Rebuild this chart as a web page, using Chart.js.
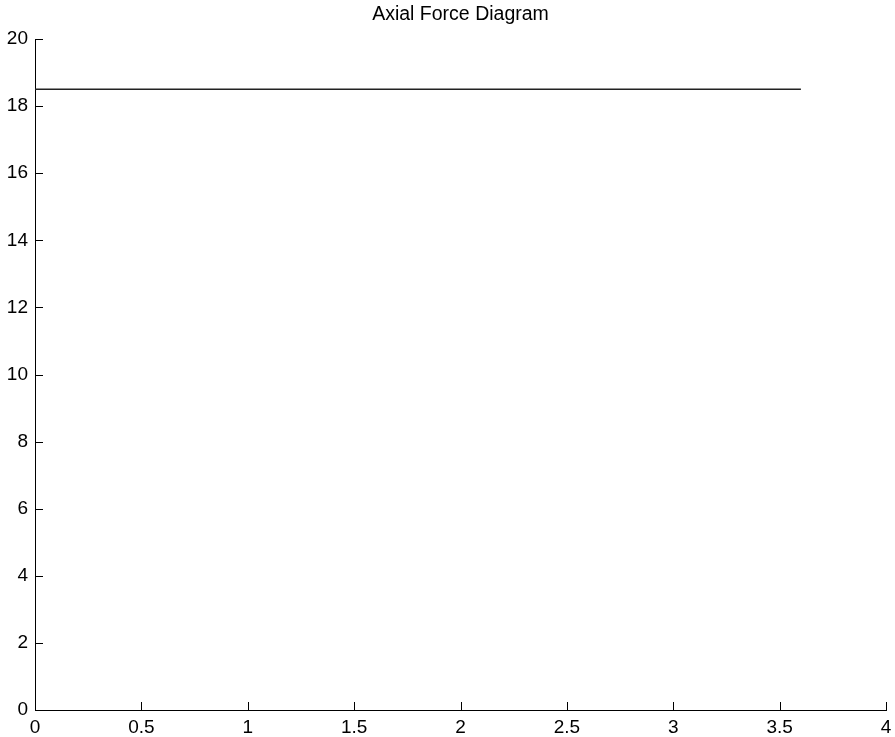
<!DOCTYPE html>
<html>
<head>
<meta charset="utf-8">
<script src="https://cdn.jsdelivr.net/npm/chart.js@4.4.0/dist/chart.umd.min.js"></script>
<style>
  html, body { margin: 0; padding: 0; background: #fff; }
  #wrap { width: 895px; height: 737px; }
</style>
</head>
<body>
<div id="wrap"><canvas id="myChart"></canvas></div>
<script>
// datos
const posX = [0, 3.6];
const fuerzaAxial = [18.5, 18.5];
const ticksX = [0, 0.5, 1, 1.5, 2, 2.5, 3, 3.5, 4];
const ticksY = [0, 2, 4, 6, 8, 10, 12, 14, 16, 18, 20];

const ctx = document.getElementById("myChart");
const fuente = "'Liberation Sans', Arial, sans-serif";

// ticks hacia adentro, estilo matlab
const ticksAdentro = {
  id: "ticksAdentro",
  afterDraw(chart) {
    const { ctx, chartArea, scales } = chart;
    ctx.save();
    ctx.strokeStyle = "#000";
    ctx.lineWidth = 1;
    ticksX.forEach((v) => {
      const px = Math.round(scales.x.getPixelForValue(v)) + 0.5;
      ctx.beginPath();
      ctx.moveTo(px, chartArea.bottom);
      ctx.lineTo(px, chartArea.bottom - 8);
      ctx.stroke();
    });
    ticksY.forEach((v) => {
      const py = Math.round(scales.y.getPixelForValue(v)) + 0.5;
      ctx.beginPath();
      ctx.moveTo(chartArea.left, py);
      ctx.lineTo(chartArea.left + 8, py);
      ctx.stroke();
    });
    ctx.restore();
  },
};

new Chart(ctx, {
  type: "scatter",
  data: {
    datasets: [
      {
        data: posX.map((x, i) => ({ x: x, y: fuerzaAxial[i] })),
        showLine: true,
        borderColor: "#222",
        borderWidth: 1.5,
        pointRadius: 0,
        fill: false,
      },
    ],
  },
  options: {
    responsive: true,
    maintainAspectRatio: false,
    animation: false,
    plugins: {
      legend: { display: false },
      tooltip: { enabled: false },
      title: {
        display: true,
        fullSize: false,
        text: "Axial Force Diagram",
        color: "#000",
        font: { family: fuente, size: 19.5, weight: "normal" },
        padding: { top: 3, bottom: 12.6 },
      },
    },
    scales: {
      x: {
        type: "linear",
        min: 0,
        max: 4,
        afterBuildTicks: (s) => { s.ticks = ticksX.map((v) => ({ value: v })); },
        afterFit: (s) => { s.height = 27; s.paddingRight = 9; },
        grid: { display: true, drawOnChartArea: false, drawTicks: false },
        border: { color: "#000", width: 1 },
        ticks: {
          color: "#000",
          padding: 6,
          maxRotation: 0,
          font: { family: fuente, size: 19 },
          callback: (v) => String(v),
        },
      },
      y: {
        type: "linear",
        min: 0,
        max: 20,
        afterBuildTicks: (s) => { s.ticks = ticksY.map((v) => ({ value: v })); },
        afterFit: (s) => { s.width = 35; },
        grid: { display: true, drawOnChartArea: false, drawTicks: false },
        border: { color: "#000", width: 1 },
        ticks: { color: "#000", padding: 7, font: { family: fuente, size: 19 }, callback: (v) => String(v) },
      },
    },
  },
  plugins: [ticksAdentro],
});
</script>
</body>
</html>
